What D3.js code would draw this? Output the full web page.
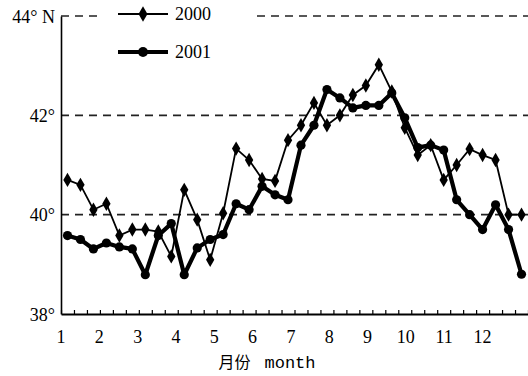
<!DOCTYPE html>
<html>
<head>
<meta charset="utf-8">
<script src="https://cdn.jsdelivr.net/npm/d3@7"></script>
<style>
  body { margin: 0; background: #fff; }
</style>
</head>
<body>
<figure id="chart" style="margin:0"></figure>
<script>
// dekad values (3 per month, Jan..Dec), latitude in degrees N
const dekads = d3.range(36);
const lat2000 = [40.7, 40.6, 40.1, 40.22, 39.58, 39.7, 39.7, 39.66, 39.16,
  40.5, 39.9, 39.09, 40.03, 41.33, 41.1, 40.72, 40.68, 41.5,
  41.8, 42.25, 41.8, 42.0, 42.41, 42.6, 43.02, 42.48, 41.75,
  41.2, 41.4, 40.7, 41.0, 41.32, 41.2, 41.1, 40.0, 40.0];
const lat2001 = [39.58, 39.5, 39.31, 39.43, 39.35, 39.31, 38.79, 39.58, 39.82,
  38.79, 39.33, 39.5, 39.6, 40.22, 40.1, 40.57, 40.4, 40.3,
  41.4, 41.8, 42.52, 42.35, 42.15, 42.2, 42.2, 42.45, 41.95,
  41.35, 41.4, 41.3, 40.3, 40.0, 39.7, 40.2, 39.7, 38.8];
const months = [1, 2, 3, 4, 5, 6, 7, 8, 9, 10, 11, 12];
const yTicks = [38, 40, 42, 44];
const gridTicks = [40, 42, 44];

const serif = "'Liberation Serif', 'Times New Roman', serif";
const width = 528, height = 376;
const svg = d3.select("figure#chart")
  .append("svg")
  .attr("width", width)
  .attr("height", height);

const x = d3.scaleLinear().domain([0, 36]).range([61, 528]);
const xMonth = d3.scaleLinear().domain([1, 12]).range([60.5, 482]);
const y = d3.scaleLinear().domain([38, 44]).range([314, 16]);

// dashed gridlines
svg.append("g")
  .selectAll("line")
  .data(gridTicks)
  .enter()
  .append("line")
  .attr("x1", 61)
  .attr("x2", width)
  .attr("y1", d => y(d))
  .attr("y2", d => y(d))
  .attr("stroke", "#222")
  .attr("stroke-width", 1.6)
  .attr("stroke-dasharray", "8,6");

// y axis
const yAxis = svg.append("g")
  .attr("transform", "translate(61,0)")
  .call(d3.axisLeft(y)
    .tickValues(yTicks)
    .tickSize(0)
    .tickPadding(6)
    .tickFormat(d => d === 44 ? d + "° N" : d + "°"));
yAxis.attr("font-family", null);
yAxis.select(".domain").attr("stroke", "#000").attr("stroke-width", 1.6);
yAxis.selectAll("text")
  .style("font-family", serif)
  .style("font-size", "18px")
  .attr("fill", "#000")
  .attr("dy", "0.35em");

// x axis with inward dekad ticks
const xAxis = svg.append("g")
  .attr("transform", "translate(0,314)")
  .call(d3.axisBottom(x)
    .tickValues(d3.range(0, 37))
    .tickSize(-4)
    .tickSizeOuter(0)
    .tickFormat(""));
xAxis.select(".domain").attr("stroke", "#000").attr("stroke-width", 1.8);
xAxis.selectAll(".tick line").attr("stroke", "#000").attr("stroke-width", 1.2);

// month labels
const mAxis = svg.append("g")
  .attr("transform", "translate(0,330)")
  .call(d3.axisBottom(xMonth)
    .tickValues(months)
    .tickSize(0)
    .tickPadding(0)
    .tickFormat(d => d));
mAxis.select(".domain").remove();
mAxis.selectAll("text")
  .style("font-family", serif)
  .style("font-size", "18px")
  .attr("fill", "#000")
  .attr("dy", "0.7em");

// axis title
const title = svg.append("text")
  .attr("x", 267)
  .attr("y", 368)
  .attr("text-anchor", "middle")
  .style("font-size", "17px");
title.append("tspan").style("font-family", "'Noto Sans CJK SC'").style("font-size", "16px").text("月份");
title.append("tspan").attr("dx", 14).style("font-family", "'Liberation Mono', monospace").text("month");

const line = d3.line()
  .x((d, i) => x(i + 0.5))
  .y(d => y(d));

// 2000: thin line, diamonds
svg.append("path")
  .datum(lat2000)
  .attr("fill", "none")
  .attr("stroke", "#000")
  .attr("stroke-width", 1.8)
  .attr("d", line);
svg.append("g")
  .selectAll("path")
  .data(lat2000)
  .enter()
  .append("path")
  .attr("d", d3.symbol(d3.symbolDiamond, 60))
  .attr("transform", (d, i) => "translate(" + x(i + 0.5) + "," + y(d) + ")")
  .attr("fill", "#000");

// 2001: thick line, circles
svg.append("path")
  .datum(lat2001)
  .attr("fill", "none")
  .attr("stroke", "#000")
  .attr("stroke-width", 4.2)
  .attr("stroke-linejoin", "round")
  .attr("d", line);
svg.append("g")
  .selectAll("circle")
  .data(lat2001)
  .enter()
  .append("circle")
  .attr("cx", (d, i) => x(i + 0.5))
  .attr("cy", d => y(d))
  .attr("r", 4.6)
  .attr("fill", "#000");

// legend
const legend = svg.append("g");
legend.append("rect")
  .attr("x", 100).attr("y", 0).attr("width", 152).attr("height", 66)
  .attr("fill", "#fff");
legend.append("line")
  .attr("x1", 118).attr("x2", 168).attr("y1", 14).attr("y2", 14)
  .attr("stroke", "#000").attr("stroke-width", 1.8);
legend.append("path")
  .attr("d", d3.symbol(d3.symbolDiamond, 70))
  .attr("transform", "translate(143,14)");
legend.append("text")
  .attr("x", 175).attr("y", 14).attr("dy", "0.35em")
  .style("font-family", serif)
  .style("font-size", "18px").text("2000");
legend.append("line")
  .attr("x1", 118).attr("x2", 168).attr("y1", 52).attr("y2", 52)
  .attr("stroke", "#000").attr("stroke-width", 4.2);
legend.append("circle")
  .attr("cx", 143).attr("cy", 52).attr("r", 5);
legend.append("text")
  .attr("x", 175).attr("y", 52).attr("dy", "0.35em")
  .style("font-family", serif)
  .style("font-size", "18px").text("2001");
</script>
</body>
</html>
